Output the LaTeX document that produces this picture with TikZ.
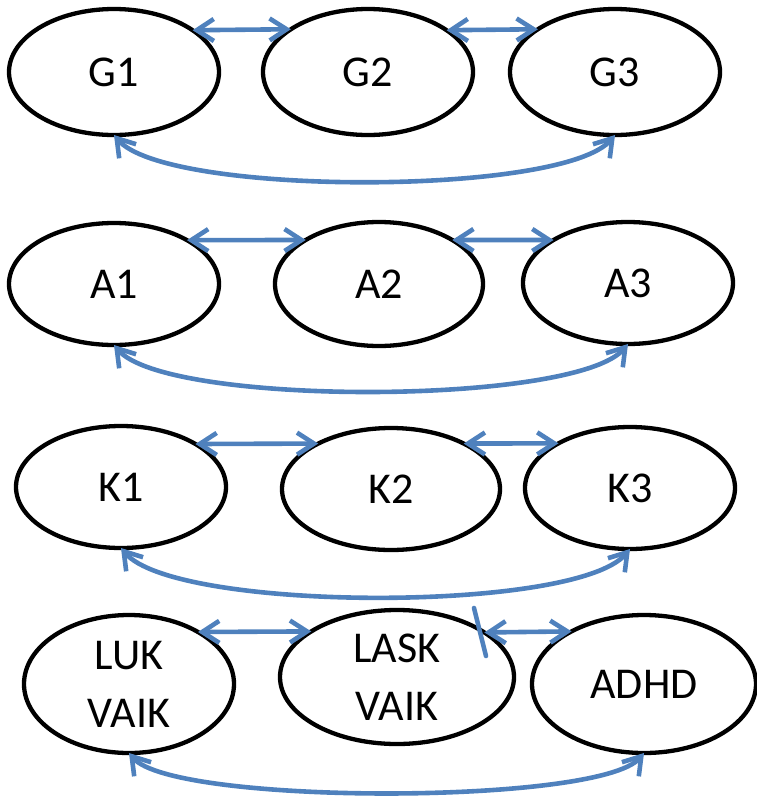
\documentclass[tikz,border=0pt]{standalone}
\usepackage{fontspec}
\setmainfont{Carlito}
\usetikzlibrary{arrows.meta,shapes.geometric}
\definecolor{lineblue}{HTML}{4F81BD}
\tikzset{
  oval/.style={ellipse, draw=black, line width=4.3pt, inner sep=0pt, outer sep=0pt,
    font=\fontsize{44}{58}\selectfont, align=center},
  link/.style={draw=lineblue, line width=4.6pt, line cap=round,
    {Straight Barb[length=17pt,width=22pt]}-{Straight Barb[length=17pt,width=22pt]}},
}
\begin{document}
\begin{tikzpicture}[x=1pt,y=1pt]
\useasboundingbox (0,0) rectangle (756,-796);
% Row G
\node[oval, minimum width=210, minimum height=126] (G1) at (114,-72) {G1};
\node[oval, minimum width=210, minimum height=126] (G2) at (368,-72) {G2};
\node[oval, minimum width=210, minimum height=126] (G3) at (615,-72) {G3};
\draw[link] (G1.28.2) -- (G2.151.8);
\draw[link] (G2.28.2) -- (G3.151.8);
\draw[link] (G1.south) to[out=-50, in=-130, looseness=0.41] (G3.south);
% Row A
\node[oval, minimum width=210, minimum height=122] (A1) at (114,-284) {A1};
\node[oval, minimum width=208, minimum height=124] (A2) at (379,-284) {A2};
\node[oval, minimum width=210, minimum height=122] (A3) at (628,-283) {A3};
\draw[link] (A1.31.1) -- (A2.149);
\draw[link] (A2.31) -- (A3.150);
\draw[link] (A1.south) to[out=-50, in=-130, looseness=0.40] (A3.south);
% Row K
\node[oval, minimum width=210, minimum height=122] (K1) at (121,-487) {K1};
\node[oval, minimum width=218, minimum height=122] (K2) at (391,-489) {K2};
\node[oval, minimum width=210, minimum height=122] (K3) at (630,-488) {K3};
\draw[link] (K1.30) -- (K2.148);
\draw[link] (K2.32) -- (K3.148.9);
\draw[link] (K1.south) to[out=-50, in=-130, looseness=0.42] (K3.south);
% Bottom row
\node[oval, minimum width=210, minimum height=138] (LUK) at (129,-684) {LUK\\VAIK};
\node[oval, minimum width=234, minimum height=134] (LASK) at (397,-677) {LASK\\VAIK};
\node[oval, minimum width=224, minimum height=138] (ADHD) at (644,-684) {ADHD};
\draw[link] (LUK.37) -- (LASK.152.6);
\draw[link] (LASK.27.4) -- (ADHD.144.8);
\draw[link] (LUK.south) to[out=-50, in=-130, looseness=0.34] (ADHD.south);
\coordinate (s1) at (474,-608);
\coordinate (s2) at (486,-656);
\draw[draw=lineblue, line width=4.6pt, line cap=round] (s1) -- (s2);
\end{tikzpicture}
\end{document}
